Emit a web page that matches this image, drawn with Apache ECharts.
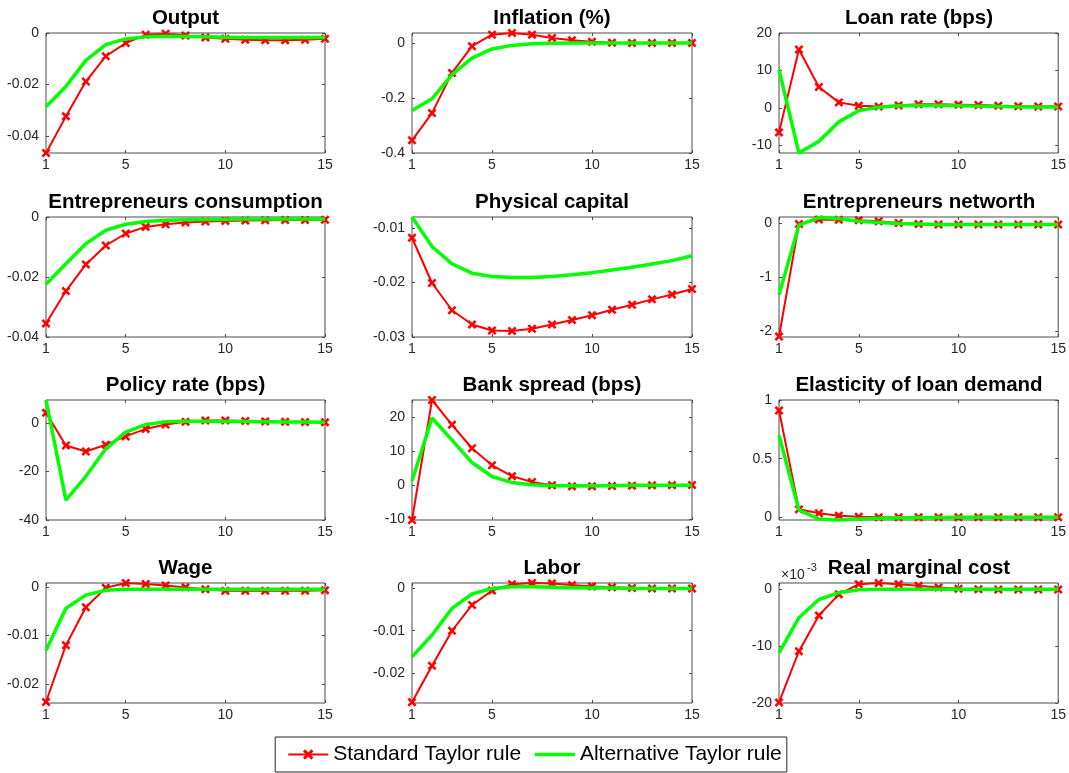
<!DOCTYPE html>
<html>
<head>
<meta charset="utf-8">
<script src="https://cdn.jsdelivr.net/npm/echarts@6/dist/echarts.min.js"></script>
<style>
  html, body { margin: 0; padding: 0; background: #fff; }
  #chart { width: 1069px; height: 773px; }
</style>
</head>
<body>
<div id="chart"></div>
<script>
// Impulse responses over 15 periods under two monetary policy rules
const periods = [1, 2, 3, 4, 5, 6, 7, 8, 9, 10, 11, 12, 13, 14, 15];
const xTicks = [1, 5, 10, 15];
const seriesNames = ['Standard Taylor rule', 'Alternative Taylor rule'];

const outputStd = [-0.0465, -0.0323, -0.0188, -0.0090, -0.0039, -0.0007, -0.0003, -0.0010, -0.0017, -0.0022, -0.0026, -0.0028, -0.0028, -0.0026, -0.0022];
const outputAlt = [-0.0286, -0.0207, -0.0106, -0.0045, -0.0023, -0.0015, -0.0013, -0.0014, -0.0015, -0.0016, -0.0017, -0.0017, -0.0017, -0.0017, -0.0017];
const outputTicks = [-0.04, -0.02, 0];

const inflationStd = [-0.354, -0.255, -0.109, -0.012, 0.030, 0.036, 0.030, 0.018, 0.010, 0.004, 0.001, 0.0, 0.0, 0.0, 0.0];
const inflationAlt = [-0.246, -0.203, -0.115, -0.055, -0.022, -0.009, -0.003, -0.001, 0.0, 0.0, 0.0, 0.0, 0.0, 0.0, 0.0];
const inflationTicks = [-0.4, -0.2, 0];

const loanRateStd = [-6.5, 15.6, 5.6, 1.5, 0.6, 0.4, 0.7, 1.0, 1.0, 0.9, 0.8, 0.6, 0.5, 0.4, 0.4];
const loanRateAlt = [10.2, -12.0, -8.9, -3.7, -0.7, 0.2, 0.6, 0.7, 0.7, 0.6, 0.5, 0.4, 0.3, 0.3, 0.3];
const loanRateTicks = [-10, 0, 10, 20];

const entConsStd = [-0.0355, -0.0247, -0.0158, -0.0095, -0.0055, -0.0033, -0.0024, -0.0018, -0.0015, -0.0013, -0.0012, -0.0011, -0.0010, -0.0010, -0.0009];
const entConsAlt = [-0.0224, -0.0156, -0.0089, -0.0044, -0.0024, -0.0015, -0.0011, -0.0009, -0.0008, -0.0008, -0.0007, -0.0007, -0.0007, -0.0007, -0.0007];
const entConsTicks = [-0.04, -0.02, 0];

const capitalStd = [-0.0118, -0.0201, -0.0251, -0.0277, -0.0288, -0.0289, -0.0285, -0.0277, -0.0269, -0.0260, -0.0250, -0.0241, -0.0231, -0.0222, -0.0212];
const capitalAlt = [-0.0080, -0.0134, -0.0166, -0.0183, -0.0189, -0.0191, -0.0191, -0.0189, -0.0186, -0.0182, -0.0177, -0.0172, -0.0166, -0.0160, -0.0151];
const capitalTicks = [-0.03, -0.02, -0.01];

const networthStd = [-2.09, -0.01, 0.075, 0.07, 0.06, 0.04, 0.01, -0.01, -0.02, -0.02, -0.02, -0.02, -0.02, -0.02, -0.02];
const networthAlt = [-1.32, -0.03, 0.11, 0.09, 0.04, 0.02, 0.0, -0.01, -0.02, -0.02, -0.02, -0.02, -0.02, -0.02, -0.02];
const networthTicks = [-2, -1, 0];

const policyStd = [4.1, -9.3, -11.8, -9.0, -5.6, -2.5, -0.7, 0.4, 1.0, 1.0, 0.8, 0.6, 0.4, 0.3, 0.2];
const policyAlt = [9.4, -31.8, -22.0, -10.7, -3.8, -0.7, 0.4, 0.7, 0.7, 0.6, 0.5, 0.4, 0.3, 0.3, 0.2];
const policyTicks = [-40, -20, 0];

const spreadStd = [-10.2, 25.1, 17.8, 10.9, 5.9, 2.7, 1.0, 0.0, -0.3, -0.3, -0.2, -0.1, 0.0, 0.05, 0.1];
const spreadAlt = [1.3, 19.8, 13.3, 6.7, 2.6, 0.8, 0.2, -0.1, -0.1, -0.1, -0.1, 0.0, 0.0, 0.0, 0.0];
const spreadTicks = [-10, 0, 10, 20];

const elasticityStd = [0.91, 0.068, 0.034, 0.014, 0.005, 0.0, 0.0, 0.0, 0.0, 0.0, 0.0, 0.0, 0.0, 0.0, 0.0];
const elasticityAlt = [0.70, 0.062, -0.014, -0.022, -0.014, -0.008, -0.004, -0.002, -0.001, 0.0, 0.0, 0.0, 0.0, 0.0, 0.0];
const elasticityTicks = [0, 0.5, 1];

const wageStd = [-0.0237, -0.0120, -0.0042, -0.0002, 0.0008, 0.0006, 0.0003, -0.0001, -0.0005, -0.0008, -0.0008, -0.0008, -0.0008, -0.0008, -0.0007];
const wageAlt = [-0.0131, -0.0044, -0.0017, -0.0007, -0.0005, -0.0005, -0.0005, -0.0005, -0.0005, -0.0005, -0.0005, -0.0005, -0.0005, -0.0005, -0.0005];
const wageTicks = [-0.02, -0.01, 0];

const laborStd = [-0.0269, -0.0183, -0.0100, -0.0039, -0.0005, 0.0010, 0.0013, 0.0012, 0.0008, 0.0005, 0.0003, 0.0001, 0.0, 0.0, 0.0];
const laborAlt = [-0.0162, -0.0110, -0.0047, -0.0013, 0.0, 0.0004, 0.0004, 0.0003, 0.0002, 0.0001, 0.0001, 0.0, 0.0, 0.0, 0.0];
const laborTicks = [-0.02, -0.01, 0];

const mcStd = [-0.0199, -0.0109, -0.0046, -0.0009, 0.0009, 0.0011, 0.0009, 0.0006, 0.0003, 0.0001, 0.0, -0.00005, -0.00005, -0.00005, -0.00005];
const mcAlt = [-0.0112, -0.0050, -0.0018, -0.0006, -0.0001, 0.0, 0.0, 0.0, 0.0, 0.0, 0.0, 0.0, 0.0, 0.0, 0.0];
const mcTicks = [-0.02, -0.01, 0];

// One entry per subplot: title, the two responses, the y range and tick values
const panels = [
  { title: 'Output', std: outputStd, alt: outputAlt, min: -0.0465, max: 0, ticks: outputTicks },
  { title: 'Inflation (%)', std: inflationStd, alt: inflationAlt, min: -0.4, max: 0.036, ticks: inflationTicks },
  { title: 'Loan rate (bps)', std: loanRateStd, alt: loanRateAlt, min: -12, max: 20, ticks: loanRateTicks },
  { title: 'Entrepreneurs consumption', std: entConsStd, alt: entConsAlt, min: -0.04, max: 0, ticks: entConsTicks },
  { title: 'Physical capital', std: capitalStd, alt: capitalAlt, min: -0.03, max: -0.008, ticks: capitalTicks },
  { title: 'Entrepreneurs networth', std: networthStd, alt: networthAlt, min: -2.1, max: 0.12, ticks: networthTicks },
  { title: 'Policy rate (bps)', std: policyStd, alt: policyAlt, min: -40, max: 9.4, ticks: policyTicks },
  { title: 'Bank spread (bps)', std: spreadStd, alt: spreadAlt, min: -10.2, max: 25.1, ticks: spreadTicks },
  { title: 'Elasticity of loan demand', std: elasticityStd, alt: elasticityAlt, min: -0.023, max: 1, ticks: elasticityTicks },
  { title: 'Wage', std: wageStd, alt: wageAlt, min: -0.0239, max: 0.0008, ticks: wageTicks },
  { title: 'Labor', std: laborStd, alt: laborAlt, min: -0.0271, max: 0.0013, ticks: laborTicks },
  { title: 'Real marginal cost', std: mcStd, alt: mcAlt, min: -0.020, max: 0.0011, ticks: mcTicks, exp: -3 }
];

const FONT = "'Liberation Sans', Arial, Helvetica, sans-serif";
const AXIS_COLOR = '#262626';
const BOX_COLOR = '#4a4a4a';
const colLeft = [46, 412, 779];
const colWidth = [279, 280, 280];
const rowTop = [33, 217, 400, 583];
const plotHeight = 120;

// Filled "x" marker
const crossSymbol = 'path://M0,2L2,0L5,3L8,0L10,2L7,5L10,8L8,10L5,7L2,10L0,8L3,5Z';

function fmtTick(v, exp) {
  if (exp) return String(Math.round(v / Math.pow(10, exp)));
  const r = Math.round(v * 10000) / 10000;
  return String(r);
}

const grids = [], xAxes = [], yAxes = [], series = [], titles = [], graphics = [];

panels.forEach((p, i) => {
  const col = i % 3, row = Math.floor(i / 3);
  const left = colLeft[col], top = rowTop[row], width = colWidth[col];
  grids.push({
    left: left, top: top, width: width, height: plotHeight,
    show: true, borderColor: BOX_COLOR, borderWidth: 1, backgroundColor: '#fff',
    containLabel: false
  });
  const tick = (vals) => ({ show: true, inside: true, length: 3, customValues: vals,
    lineStyle: { color: BOX_COLOR, width: 1 } });
  // bottom + top x axes
  [ 'bottom', 'top' ].forEach((pos, k) => {
    xAxes.push({
      type: 'value', gridIndex: i, position: pos, min: 1, max: 15,
      axisLine: { show: false, onZero: false },
      axisTick: tick(xTicks),
      splitLine: { show: false },
      axisLabel: k === 0 ? { show: true, customValues: xTicks, margin: 5,
        color: AXIS_COLOR, fontSize: 14, fontFamily: FONT } : { show: false }
    });
  });
  // left + right y axes
  [ 'left', 'right' ].forEach((pos, k) => {
    yAxes.push({
      type: 'value', gridIndex: i, position: pos, min: p.min, max: p.max,
      axisLine: { show: false, onZero: false },
      axisTick: tick(p.ticks),
      splitLine: { show: false },
      axisLabel: k === 0 ? { show: true, customValues: p.ticks, margin: 7,
        color: AXIS_COLOR, fontSize: 14, fontFamily: FONT,
        formatter: (v) => fmtTick(v, p.exp) } : { show: false }
    });
  });
  series.push({
    name: seriesNames[0], type: 'line', xAxisIndex: 2 * i, yAxisIndex: 2 * i,
    data: periods.map((t, j) => [t, p.std[j]]),
    symbol: crossSymbol, symbolSize: 9, showSymbol: true, clip: false,
    lineStyle: { color: '#ff0000', width: 2 },
    itemStyle: { color: '#ff0000' },
    emphasis: { disabled: true }, animation: false, z: 2
  });
  series.push({
    name: seriesNames[1], type: 'line', xAxisIndex: 2 * i, yAxisIndex: 2 * i,
    data: periods.map((t, j) => [t, p.alt[j]]),
    symbol: 'none', clip: false,
    lineStyle: { color: '#00ff00', width: 3.5 },
    itemStyle: { color: '#00ff00' },
    emphasis: { disabled: true }, animation: false, z: 3
  });
  titles.push({
    text: p.title, left: left + width / 2, top: top - 25, textAlign: 'center', padding: 0,
    textStyle: { fontFamily: FONT, fontSize: 20.5, fontWeight: 'bold', color: '#000' }
  });
  if (p.exp) {
    graphics.push({ type: 'text', left: left + 2, top: top - 15,
      style: { text: '\u00d710', fontFamily: FONT, fontSize: 14, fill: AXIS_COLOR } });
    graphics.push({ type: 'text', left: left + 28, top: top - 21,
      style: { text: String(p.exp), fontFamily: FONT, fontSize: 11, fill: AXIS_COLOR } });
  }
});

const chart = echarts.init(document.getElementById('chart'), null, { renderer: 'canvas' });
chart.setOption({
  backgroundColor: '#fff',
  animation: false,
  title: titles,
  grid: grids,
  xAxis: xAxes,
  yAxis: yAxes,
  series: series,
  graphic: graphics,
  legend: {
    data: [
      { name: seriesNames[0] },
      { name: seriesNames[1], itemStyle: { color: 'rgba(0,0,0,0)', opacity: 0 },
        lineStyle: { color: '#00ff00', width: 3.5 } }
    ],
    bottom: 1, left: 'center',
    borderColor: AXIS_COLOR, borderWidth: 1, padding: [7, 5, 7, 12],
    itemWidth: 40, itemHeight: 13, itemGap: 12,
    textStyle: { fontFamily: FONT, fontSize: 21, color: '#000' },
    backgroundColor: '#fff'
  }
});
</script>
</body>
</html>
